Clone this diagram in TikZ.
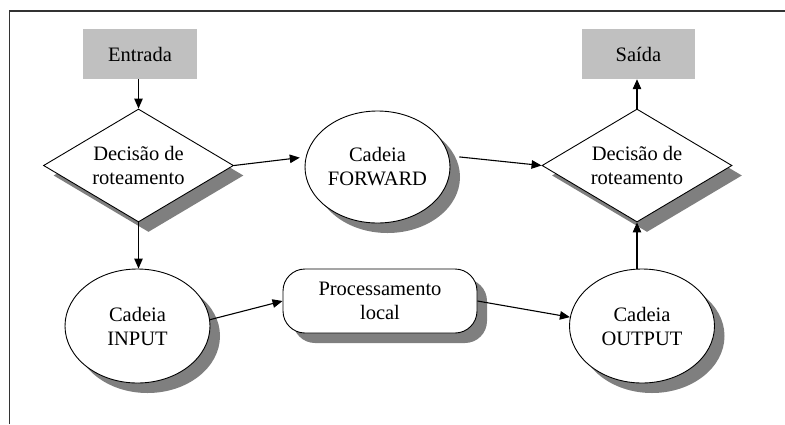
\documentclass[tikz,border=0pt]{standalone}
\usepackage{fontspec}
\setmainfont{Liberation Serif}
\newfontfamily\tnrfont{Liberation Serif}
\usetikzlibrary{shapes.geometric,shadows,arrows.meta}
\definecolor{boxgray}{HTML}{C0C0C0}
\definecolor{shadowgray}{HTML}{7F7F7F}
\definecolor{framecol}{HTML}{333333}
\begin{document}
\begin{tikzpicture}[x=1pt,y=-1pt,
  every node/.style={font=\tnrfont\fontsize{20.5}{24}\selectfont, align=center, inner sep=0pt, text=black},
  shad/.style={drop shadow={shadow xshift=10pt, shadow yshift=-10pt, fill=shadowgray, opacity=1}},
  iobox/.style={rectangle, fill=boxgray, minimum width=114pt, minimum height=50pt},
  decision/.style={diamond, draw, fill=white, line width=0.9pt, shad, minimum width=190pt, minimum height=113pt, aspect=1.68},
  chain/.style={ellipse, draw, fill=white, line width=0.9pt, shad, minimum width=145pt, minimum height=114pt},
  procbox/.style={rectangle, rounded corners=22pt, draw, fill=white, line width=0.9pt, shad, minimum width=194pt, minimum height=64pt},
  arr/.style={-{Triangle[length=10pt,width=8.5pt]}, line width=1.1pt}
]
\useasboundingbox (0,0) rectangle (785,424);
% frame
\draw[framecol, line width=1.5pt] (9.5,424) -- (9.5,11) -- (785,11);

\node[iobox] (ent) at (140,54) {Entrada};
\node[iobox, minimum width=113pt] (sai) at (638.5,54) {Saída};

\node[decision] (dl) at (138.5,165.5) {Decisão de\\roteamento};
\node[decision] (dr) at (637,165.5) {Decisão de\\roteamento};

\node[chain, minimum height=112pt] (fw) at (377.5,167) {Cadeia\\FORWARD};
\node[chain] (in) at (137.5,326) {Cadeia\\INPUT};
\node[chain] (out) at (642,326) {Cadeia\\OUTPUT};

\node[procbox] (pr) at (380,301) {Processamento\\local};

\draw[arr] (ent.south -| dl.north) -- (dl.north);
\draw[arr] (dl.south) -- (in.north -| dl.south);
\draw[arr, shorten >=6pt] (dl.east) -- (fw.172);
\draw[arr] ([xshift=10pt]fw.8) -- (dr.west);
\draw[arr] (dr.north) -- (sai.south -| dr.north);
\draw[arr] (in.5) -- (pr.west);
\draw[arr] (pr.east) -- (out.173);
\draw[arr] (out.north -| dr.south) -- (dr.south);
\end{tikzpicture}
\end{document}
